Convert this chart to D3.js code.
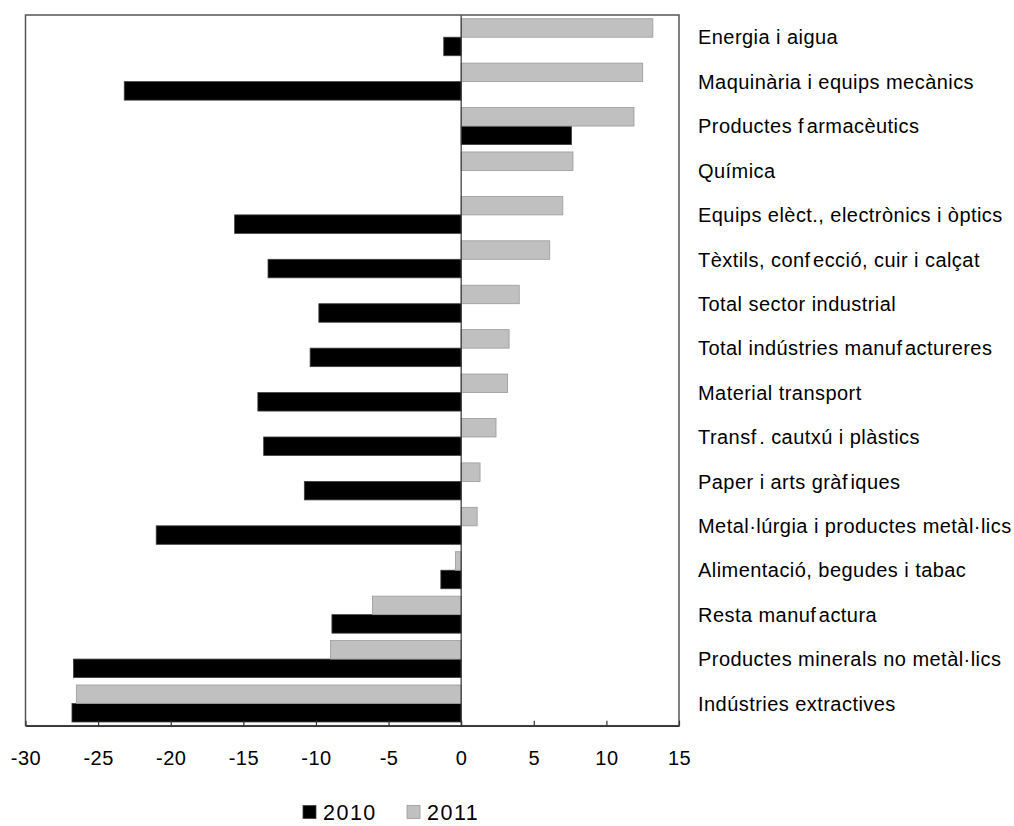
<!DOCTYPE html>
<html>
<head>
<meta charset="utf-8">
<script src="https://cdn.jsdelivr.net/npm/d3@7"></script>
<style>
  html, body { margin: 0; padding: 0; background: #fff; }
  svg { display: block; font-family: "Liberation Sans", Arial, sans-serif; }
</style>
</head>
<body>
<svg id="chart" width="1014" height="826"></svg>
<script>
// Sectors, top to bottom
const sectors = [
  "Energia i aigua",
  "Maquinària i equips mecànics",
  "Productes farmacèutics",
  "Química",
  "Equips elèct., electrònics i òptics",
  "Tèxtils, confecció, cuir i calçat",
  "Total sector industrial",
  "Total indústries manufactureres",
  "Material transport",
  "Transf. cautxú i plàstics",
  "Paper i arts gràfiques",
  "Metal·lúrgia i productes metàl·lics",
  "Alimentació, begudes i tabac",
  "Resta manufactura",
  "Productes minerals no metàl·lics",
  "Indústries extractives"
];

const values2010 = [-1.2, -23.2, 7.6, 0, -15.6, -13.3, -9.8, -10.4, -14.0, -13.6, -10.8, -21.0, -1.4, -8.9, -26.7, -26.8];
const values2011 = [13.2, 12.5, 11.9, 7.7, 7.0, 6.1, 4.0, 3.3, 3.2, 2.4, 1.3, 1.1, -0.4, -6.1, -9.0, -26.5];

const seriesNames = ["2010", "2011"];
const xTicks = [-30, -25, -20, -15, -10, -5, 0, 5, 10, 15];

const svg = d3.select("#chart");

const plot = { left: 25.5, right: 679, top: 15, bottom: 725.7 };

const x = d3.scaleLinear().domain([-30, 15]).range([plot.left, plot.right]);
const y = d3.scaleBand().domain(sectors).range([plot.top, plot.bottom]).padding(0);
// within each sector: 2011 above, 2010 below
const ySub = d3.scaleBand().domain(["2011", "2010"]).range([0, y.bandwidth()])
  .paddingInner(0).paddingOuter(0.2);

const colors = { "2010": "#000000", "2011": "#c0c0c0" };
const strokes = { "2010": "#404040", "2011": "#9a9a9a" };

const rows = sectors.map((s, i) => ({ sector: s, "2010": values2010[i], "2011": values2011[i] }));

// bars
const g = svg.append("g");
seriesNames.forEach(name => {
  g.selectAll(null)
    .data(rows.filter(r => r[name] !== 0))
    .join("rect")
    .attr("x", d => x(Math.min(0, d[name])))
    .attr("width", d => Math.abs(x(d[name]) - x(0)))
    .attr("y", d => y(d.sector) + ySub(name))
    .attr("height", ySub.bandwidth())
    .attr("fill", colors[name])
    .attr("stroke", strokes[name])
    .attr("stroke-width", 0.8);
});

// zero line
svg.append("line")
  .attr("x1", x(0)).attr("x2", x(0))
  .attr("y1", plot.top).attr("y2", plot.bottom)
  .attr("stroke", "#333").attr("stroke-width", 1.2);

// frame
svg.append("rect")
  .attr("x", plot.left).attr("y", plot.top)
  .attr("width", plot.right - plot.left).attr("height", plot.bottom - plot.top)
  .attr("fill", "none").attr("stroke", "#555").attr("stroke-width", 1.5);

// x axis (plain hyphen for negatives)
const axis = d3.axisBottom(x).tickValues(xTicks).tickFormat(d => String(d))
  .tickSizeInner(-5).tickSizeOuter(0).tickPadding(25);
const ax = svg.append("g").attr("transform", `translate(0,${plot.bottom})`).call(axis);
ax.select(".domain").attr("stroke", "#333").attr("stroke-width", 1.5);
ax.selectAll(".tick line").attr("stroke", "#333").attr("stroke-width", 1.2);
ax.selectAll(".tick text")
  .attr("font-family", "Liberation Sans, Arial, sans-serif")
  .attr("font-size", 20).attr("letter-spacing", 0.5).attr("fill", "#000");

// category labels on the right; a little extra room after each "f"
const labels = svg.append("g").selectAll("text")
  .data(sectors)
  .join("text")
  .attr("x", 698)
  .attr("y", d => y(d) + y.bandwidth() / 2)
  .attr("dy", "0.36em")
  .attr("font-size", 20)
  .attr("letter-spacing", 0.45)
  .attr("fill", "#000");

labels.each(function(d) {
  const parts = d.split(/(?<=f)/);
  const t = d3.select(this);
  parts.forEach((p, i) => {
    t.append("tspan").attr("dx", i > 0 ? 2.5 : null).text(p);
  });
});

// legend
const legend = svg.append("g").attr("transform", "translate(303,812)");
const legItems = [
  { name: "2010", x: 0 },
  { name: "2011", x: 104 }
];
const li = legend.selectAll("g").data(legItems).join("g")
  .attr("transform", d => `translate(${d.x},0)`);
li.append("rect")
  .attr("x", 0).attr("y", -6.5).attr("width", 13).attr("height", 13)
  .attr("fill", d => colors[d.name])
  .attr("stroke", d => strokes[d.name]).attr("stroke-width", 0.8);
li.append("text")
  .attr("x", 20).attr("y", 0).attr("dy", "0.36em")
  .attr("font-size", 21.5)
  .attr("letter-spacing", 1.5)
  .text(d => d.name);
</script>
</body>
</html>
